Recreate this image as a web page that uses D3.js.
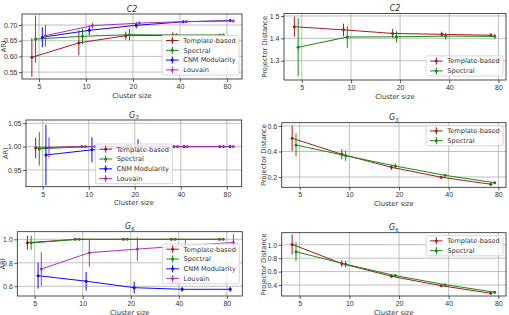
<!DOCTYPE html>
<html>
<head>
<meta charset="utf-8">
<script src="https://cdn.jsdelivr.net/npm/d3@7"></script>
<style>
  body { margin: 0; background: #fff; }
  svg { font-family: "DejaVu Sans", sans-serif; }
</style>
</head>
<body>
<svg id="canvas"></svg>
<script>
// ---- data ----
const clusterSizes = [5, 10, 20, 40, 80];
const methodNames = ["Template-based", "Spectral", "CNM Modularity", "Louvain"];

// ARI, C2
const c2AriMean = [
  [0.597, 0.643, 0.666, 0.667, 0.667],
  [0.655, 0.664, 0.669, 0.668, 0.668],
  [0.661, 0.683, 0.699, 0.710, 0.714],
  [0.666, 0.698, 0.706, 0.711, 0.713],
];
const c2AriErr = [
  [0.062, 0.040, 0.013, 0.010, 0.004],
  [0.075, 0.025, 0.018, 0.005, 0.003],
  [0.032, 0.015, 0.010, 0.004, 0.003],
  [0.034, 0.010, 0.005, 0.003, 0.002],
];
// Projector distance, C2
const c2PdMean = [
  [1.452, 1.438, 1.422, 1.418, 1.414],
  [1.360, 1.406, 1.407, 1.410, 1.409],
];
const c2PdErr = [
  [0.045, 0.028, 0.020, 0.012, 0.008],
  [0.130, 0.048, 0.025, 0.015, 0.010],
];
// ARI, G3
const g3AriMean = [
  [0.997, 1.0, 1.0, 1.0, 1.0],
  [0.995, 1.0, 1.0, 1.0, 1.0],
  [0.982, 0.993, 1.0, 1.0, 1.0],
  [0.998, 1.0, 1.0, 1.0, 1.0],
];
const g3AriErr = [
  [0.022, 0.002, 0.001, 0.001, 0.001],
  [0.036, 0.002, 0.001, 0.001, 0.001],
  [0.065, 0.027, 0.016, 0.001, 0.001],
  [0.022, 0.002, 0.001, 0.001, 0.001],
];
// Projector distance, G3
const g3PdMean = [
  [0.504, 0.378, 0.276, 0.198, 0.143],
  [0.451, 0.367, 0.286, 0.213, 0.155],
];
const g3PdErr = [
  [0.100, 0.040, 0.020, 0.010, 0.008],
  [0.090, 0.040, 0.020, 0.010, 0.008],
];
// ARI, G6
const g6AriMean = [
  [0.971, 1.0, 1.0, 1.0, 1.0],
  [0.970, 1.0, 1.0, 1.0, 1.0],
  [0.690, 0.643, 0.588, 0.574, 0.574],
  [0.747, 0.886, 0.917, 0.945, 0.974],
];
const g6AriErr = [
  [0.060, 0.003, 0.003, 0.003, 0.003],
  [0.060, 0.003, 0.002, 0.002, 0.002],
  [0.110, 0.080, 0.050, 0.020, 0.020],
  [0.143, 0.120, 0.100, 0.060, 0.070],
];
// Projector distance, G6
const g6PdMean = [
  [1.005, 0.720, 0.530, 0.390, 0.277],
  [0.896, 0.710, 0.540, 0.405, 0.293],
];
const g6PdErr = [
  [0.150, 0.050, 0.015, 0.010, 0.010],
  [0.140, 0.050, 0.020, 0.010, 0.008],
];

const c2AriTicks = [0.55, 0.60, 0.65, 0.70];
const c2PdTicks = [1.3, 1.4, 1.5];
const g3AriTicks = [0.95, 1.00, 1.05];
const g3PdTicks = [0.2, 0.4, 0.6];
const g6AriTicks = [0.6, 0.8, 1.0];
const g6PdTicks = [0.4, 0.6, 0.8, 1.0];

// ---- styling / layout ----
const colors = ["#a51c1c", "#138a13", "#0a0aff", "#b030b0"];
const dodge = [0.9, 0.95, 1.05, 1.1]; // matplotlib x-offsets so bars don't overlap
const textColor = "#333";

function getPanels() {
  return [
    { means: c2AriMean, errs: c2AriErr, ticks: c2AriTicks, fmt: ".2f", title: ["C2", null], ylabel: "ARI",
      box: [22, 14, 242, 79], xdom: [3.89, 100], ydom: [0.528, 0.735], legend: "lower right", ylabX: 3.5 },
    { means: c2PdMean, errs: c2PdErr, ticks: c2PdTicks, fmt: ".1f", title: ["C2", null], ylabel: "Projector Distance",
      box: [284, 13.5, 506, 80], xdom: [3.89, 89], ydom: [1.214, 1.511], legend: "lower right", ylabX: 265 },
    { means: g3AriMean, errs: g3AriErr, ticks: g3AriTicks, fmt: ".2f", title: ["G", "3"], ylabel: "ARI",
      box: [26, 120, 241.7, 186.7], xdom: [3.89, 100], ydom: [0.914, 1.057], legend: "lower center", ylabX: 5.5 },
    { means: g3PdMean, errs: g3PdErr, ticks: g3PdTicks, fmt: ".1f", title: ["G", "3"], ylabel: "Projector Distance",
      box: [281.7, 122.7, 506, 187.3], xdom: [3.89, 89], ydom: [0.119, 0.626], legend: "upper right", ylabX: 263.5 },
    { means: g6AriMean, errs: g6AriErr, ticks: g6AriTicks, fmt: ".1f", title: ["G", "6"], ylabel: "ARI",
      box: [17.3, 231.7, 242.3, 296], xdom: [3.89, 100], ydom: [0.517, 1.065], legend: "center right", ylabX: 2.8 },
    { means: g6PdMean, errs: g6PdErr, ticks: g6PdTicks, fmt: ".1f", title: ["G", "6"], ylabel: "Projector Distance",
      box: [281.7, 232.7, 506, 296], xdom: [3.89, 89], ydom: [0.236, 1.18], legend: "upper right", ylabX: 263.5 },
  ];
}

function drawPanel(svg, p) {
  let [x0, y0, x1, y1] = p.box;
  let xScale = d3.scaleLog().base(2).domain(p.xdom).range([x0, x1]);
  let yScale = d3.scaleLinear().domain(p.ydom).range([y1, y0]);
  let g = svg.append("g");

  // grid
  g.selectAll(".gx").data(clusterSizes).enter().append("line")
    .attr("x1", (d) => xScale(d)).attr("x2", (d) => xScale(d))
    .attr("y1", y0).attr("y2", y1)
    .attr("stroke", "#b0b0b0").attr("stroke-width", 0.8);
  g.selectAll(".gy").data(p.ticks).enter().append("line")
    .attr("x1", x0).attr("x2", x1)
    .attr("y1", (d) => yScale(d)).attr("y2", (d) => yScale(d))
    .attr("stroke", "#b0b0b0").attr("stroke-width", 0.8);

  // axes
  let axisX = d3.axisBottom(xScale).tickValues(clusterSizes).tickFormat(d3.format("d")).tickSize(3).tickSizeOuter(0).tickPadding(2);
  let axisY = d3.axisLeft(yScale).tickValues(p.ticks).tickFormat(d3.format(p.fmt)).tickSize(3).tickSizeOuter(0).tickPadding(1.5);
  let gx = g.append("g").attr("transform", `translate(0,${y1})`).call(axisX);
  let gy = g.append("g").attr("transform", `translate(${x0},0)`).call(axisY);
  [gx, gy].forEach((a) => {
    a.select(".domain").remove();
    a.selectAll("line").attr("stroke", textColor).attr("stroke-width", 0.8);
    a.selectAll("text").attr("fill", textColor).style("font-size", "7px");
  });

  // series
  let lineGen = d3.line().x((d) => xScale(d.x)).y((d) => yScale(d.y));
  p.means.forEach((series, i) => {
    let pts = series.map((v, j) => ({ x: clusterSizes[j] * dodge[i], y: v, e: p.errs[i][j] }));
    g.append("path").datum(pts)
      .attr("fill", "none").attr("stroke", colors[i]).attr("stroke-width", 1)
      .attr("d", lineGen);
    g.selectAll(null).data(pts).enter().append("line")
      .attr("x1", (d) => xScale(d.x)).attr("x2", (d) => xScale(d.x))
      .attr("y1", (d) => yScale(d.y - d.e)).attr("y2", (d) => yScale(d.y + d.e))
      .attr("stroke", colors[i]).attr("stroke-width", 1);
    g.selectAll(null).data(pts).enter().append("circle")
      .attr("cx", (d) => xScale(d.x)).attr("cy", (d) => yScale(d.y))
      .attr("r", 1.5).attr("fill", colors[i]);
  });

  // frame
  g.append("rect").attr("x", x0).attr("y", y0).attr("width", x1 - x0).attr("height", y1 - y0)
    .attr("fill", "none").attr("stroke", "#222").attr("stroke-width", 0.8);

  // title
  let t = g.append("text").attr("x", (x0 + x1) / 2).attr("y", y0 - 2.5)
    .attr("text-anchor", "middle").attr("fill", textColor).style("font-size", "8px");
  t.append("tspan").style("font-style", "italic").text(p.title[0]);
  if (p.title[1]) {
    t.append("tspan").attr("dy", 1.8).style("font-size", "5.5px").text(p.title[1]);
  }

  // axis labels
  g.append("text").attr("x", (x0 + x1) / 2).attr("y", y1 + 18.5)
    .attr("text-anchor", "middle").attr("fill", textColor).style("font-size", "6.8px")
    .text("Cluster size");
  g.append("text")
    .attr("transform", `translate(${p.ylabX},${(y0 + y1) / 2}) rotate(-90)`)
    .attr("text-anchor", "middle").attr("dy", "0.35em").attr("fill", textColor).style("font-size", "6.8px")
    .text(p.ylabel);

  drawLegend(g, p);
}

function drawLegend(g, p) {
  let [x0, y0, x1, y1] = p.box;
  let n = p.means.length;
  let rowH = 9.8;
  let leg = g.append("g");
  let bg = leg.append("rect");
  let maxW = 0;
  for (let i = 0; i < n; i++) {
    let ry = 5.2 + i * rowH;
    leg.append("line").attr("x1", 4).attr("x2", 16.6).attr("y1", ry).attr("y2", ry)
      .attr("stroke", colors[i]).attr("stroke-width", 1);
    leg.append("line").attr("x1", 10.3).attr("x2", 10.3).attr("y1", ry - 3.6).attr("y2", ry + 3.6)
      .attr("stroke", colors[i]).attr("stroke-width", 1);
    leg.append("circle").attr("cx", 10.3).attr("cy", ry).attr("r", 1.5).attr("fill", colors[i]);
    let tx = leg.append("text").attr("x", 21.3).attr("y", ry + 2.4)
      .attr("fill", textColor).style("font-size", "6.6px").text(methodNames[i]);
    maxW = Math.max(maxW, tx.node().getComputedTextLength());
  }
  let w = 21.3 + maxW + 3.3;
  let h = n * rowH + 0.5;
  bg.attr("width", w).attr("height", h).attr("rx", 1.5)
    .attr("fill", "white").attr("fill-opacity", 0.8)
    .attr("stroke", "#cccccc").attr("stroke-width", 0.8);

  let lx, ly;
  if (p.legend === "lower right") { lx = x1 - 3 - w; ly = y1 - 4 - h; }
  else if (p.legend === "upper right") { lx = x1 - 3 - w; ly = y0 + 3; }
  else if (p.legend === "lower center") { lx = (x0 + x1) / 2 - w / 2; ly = y1 - 3 - h; }
  else { lx = x1 - 3 - w; ly = (y0 + y1) / 2 - h / 2; }
  leg.attr("transform", `translate(${lx},${ly})`);
}

function showChart() {
  let svg = d3.select("#canvas").attr("width", 509).attr("height", 315);
  getPanels().forEach((p) => drawPanel(svg, p));
}

showChart();
</script>
</body>
</html>
